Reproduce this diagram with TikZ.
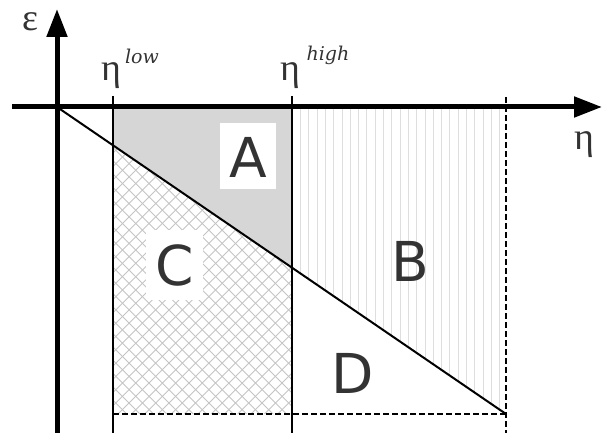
\documentclass[tikz,border=0pt]{standalone}
\usepackage{fontspec}
\setmainfont{DejaVu Serif}
\newfontfamily\lettersf{DejaVu Sans}
\newfontfamily\greekf{Liberation Serif}
\usetikzlibrary{arrows.meta}
\definecolor{shadeA}{HTML}{D6D6D6}
\definecolor{hatchC}{HTML}{C4C4C4}
\definecolor{stripeB}{HTML}{DEDEDE}
\definecolor{lettercol}{HTML}{333333}
\begin{document}
\begin{tikzpicture}[x=1pt,y=-1pt,
  axisline/.style={line width=5pt,-{Triangle[length=28pt,width=20pt]}},
  bound/.style={line width=2pt},
  dashline/.style={line width=2.2pt,dash pattern=on 6pt off 3pt},
  regionlabel/.style={font=\lettersf\fontsize{55}{55}\selectfont,text=lettercol,inner sep=0pt},
  whitebox/.style={fill=white,inner sep=0pt},
  greek/.style={font=\greekf\fontsize{38}{38}\selectfont,text=lettercol,inner sep=0pt},
  supscript/.style={font=\itshape\fontsize{19}{19}\selectfont,text=lettercol,inner sep=0pt}
]
\useasboundingbox (0,0) rectangle (602,433);
% key points
\coordinate (O) at (57,107);
\coordinate (E) at (506,414);
\coordinate (Ltop) at (113,96);
\coordinate (Lbot) at (113,433);
\coordinate (Htop) at (292,96);
\coordinate (Hbot) at (292,433);
\coordinate (Rtop) at (506,97);
\coordinate (Rbot) at (506,433);
\coordinate (BL) at (113,414);
\coordinate (Xstart) at (12,107);
\coordinate (Xend) at (602,107);
\coordinate (Ystart) at (57,433);
\coordinate (Yend) at (57,9);
% region A (grey)
\fill[shadeA] (113,107) -- (292,107) -- (292,267.7) -- (113,145.3) -- cycle;
% region C (crosshatch)
\begin{scope}
  \clip (113,145.3) -- (292,267.7) -- (292,414) -- (113,414) -- cycle;
  \foreach \i in {-400,-386.7,...,600} {
    \draw[hatchC,line width=0.9pt] (\i,100) -- ++(340,340);
    \draw[hatchC,line width=0.9pt] (\i,440) -- ++(340,-340);
  }
\end{scope}
% region B (vertical stripes)
\begin{scope}
  \clip (292,107) -- (506,107) -- (506,414) -- (292,267.7) -- cycle;
  \foreach \i in {300.4,308.7,...,506} {
    \draw[stripeB,line width=0.8pt] (\i,100) -- (\i,440);
  }
\end{scope}
% white boxes
\node[whitebox,minimum width=56pt,minimum height=66pt] (boxA) at (248,156) {};
\node[whitebox,minimum width=57pt,minimum height=70pt] (boxC) at (174,265) {};
% region labels
\node[regionlabel] (A) at (248,157) {A};
\node[regionlabel] (B) at (410,261) {B};
\node[regionlabel] (C) at (175,265) {C};
\node[regionlabel] (D) at (353,373) {D};
% lines
\draw[bound] (Ltop) -- (Lbot);
\draw[bound] (Htop) -- (Hbot);
\draw[dashline] (Rtop) -- (Rbot);
\draw[dashline] (BL) -- (E);
\draw[bound] (O) -- (E);
% axes
\draw[axisline] (Xstart) -- (Xend);
\draw[axisline] (Ystart) -- (Yend);
% axis labels
\node[greek] (eps) at (30,22) {ε};
\node[greek] (etaaxis) at (584,145) {η};
\node[greek] (etalow) at (111,76) {η};
\node[supscript] (low) at (142,56) {low};
\node[greek] (etahigh) at (290,76) {η};
\node[supscript] (high) at (328,55) {high};
\end{tikzpicture}
\end{document}
